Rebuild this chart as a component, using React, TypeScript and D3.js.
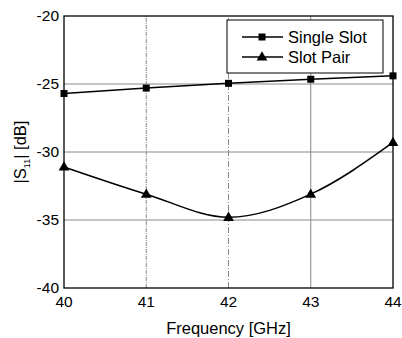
import React from 'react';
import * as d3 from 'd3';

const freqs = [40, 41, 42, 43, 44];
const singleSlot = [-25.7, -25.3, -24.95, -24.65, -24.4];
const slotPair = [-31.1, -33.1, -34.8, -33.1, -29.3];
const yTicks = [-40, -35, -30, -25, -20];
const xTicks = [40, 41, 42, 43, 44];

const W = 402;
const H = 338;
const margin = { top: 16, right: 9, bottom: 50, left: 64 };

const App = () => {
    const x = d3.scaleLinear().domain([40, 44]).range([margin.left, W - margin.right]);
    const y = d3.scaleLinear().domain([-40, -20]).range([H - margin.bottom, margin.top]);

    const line1 = d3.line<number>().x((_, i) => x(freqs[i])).y(d => y(d));
    const line2 = d3.line<number>().x((_, i) => x(freqs[i])).y(d => y(d)).curve(d3.curveMonotoneX);

    const tri = d3.symbol().type(d3.symbolTriangle).size(50)();
    const sq = (cx: number, cy: number, key: string | number) => (
        <rect key={key} x={cx - 3.5} y={cy - 3.5} width={7} height={7} fill="#000" />
    );

    const font = '"Liberation Sans", Arial, Helvetica, sans-serif';
    const x0 = x(40), x1 = x(44), y0 = y(-40), y1 = y(-20);

    return (
        <svg width={W} height={H} style={{ position: 'absolute', left: 0, top: 0, background: '#fff' }}
            fontFamily={font}>
            {/* grid */}
            {yTicks.slice(1, -1).map(t => (
                <line key={`gy${t}`} x1={x0} x2={x1} y1={y(t)} y2={y(t)} stroke="#888" strokeWidth={1} />
            ))}
            {xTicks.slice(1, -1).map((t, i) => (
                <line key={`gx${t}`} x1={x(t)} x2={x(t)} y1={y0} y2={y1} stroke="#888" strokeWidth={1}
                    strokeDasharray={i === 2 ? undefined : i === 0 ? '4,1,1,1' : '6,2,1,2'} />
            ))}
            {/* frame */}
            <rect x={x0} y={y1} width={x1 - x0} height={y0 - y1} fill="none" stroke="#000" strokeWidth={1.3} />

            {/* series */}
            <path d={line1(singleSlot) ?? ''} fill="none" stroke="#000" strokeWidth={1.5} />
            <path d={line2(slotPair) ?? ''} fill="none" stroke="#000" strokeWidth={1.5} />
            {singleSlot.map((v, i) => sq(x(freqs[i]), y(v), `s${i}`))}
            {slotPair.map((v, i) => (
                <path key={`t${i}`} d={tri ?? ''} transform={`translate(${x(freqs[i])},${y(v) + 0.5})`} fill="#000" />
            ))}

            {/* y tick labels */}
            {yTicks.map(t => (
                <text key={`yl${t}`} x={x0 - 5} y={y(t)} dy="0.35em" textAnchor="end" fontSize={15.5} fill="#000">
                    {t}
                </text>
            ))}
            {/* x tick labels */}
            {xTicks.map(t => (
                <text key={`xl${t}`} x={x(t)} y={y0 + 14} dy="0.35em" textAnchor="middle" fontSize={15.5} fill="#000">
                    {t}
                </text>
            ))}

            {/* axis titles */}
            <text x={(x0 + x1) / 2} y={328} dy="0.35em" textAnchor="middle" fontSize={16.5} fill="#000">
                Frequency [GHz]
            </text>
            <text transform={`translate(20,${(y0 + y1) / 2}) rotate(-90)`} dy="0.35em" textAnchor="middle"
                fontSize={16.5} fill="#000">
                |S<tspan fontSize={9} dy="4">11</tspan><tspan dy="-4">| [dB]</tspan>
            </text>

            {/* legend */}
            <rect x={227} y={20} width={156} height={53} fill="#fff" stroke="#000" strokeWidth={1} />
            <line x1={242} x2={283} y1={37} y2={37} stroke="#000" strokeWidth={1.5} />
            {sq(262, 37, 'lg1')}
            <text x={288} y={37} dy="0.35em" fontSize={16.5} fill="#000">Single Slot</text>
            <line x1={242} x2={283} y1={57} y2={57} stroke="#000" strokeWidth={1.5} />
            <path d={tri ?? ''} transform="translate(262,57.5)" fill="#000" />
            <text x={288} y={57} dy="0.35em" fontSize={16.5} fill="#000">Slot Pair</text>
        </svg>
    );
};

export default App;
